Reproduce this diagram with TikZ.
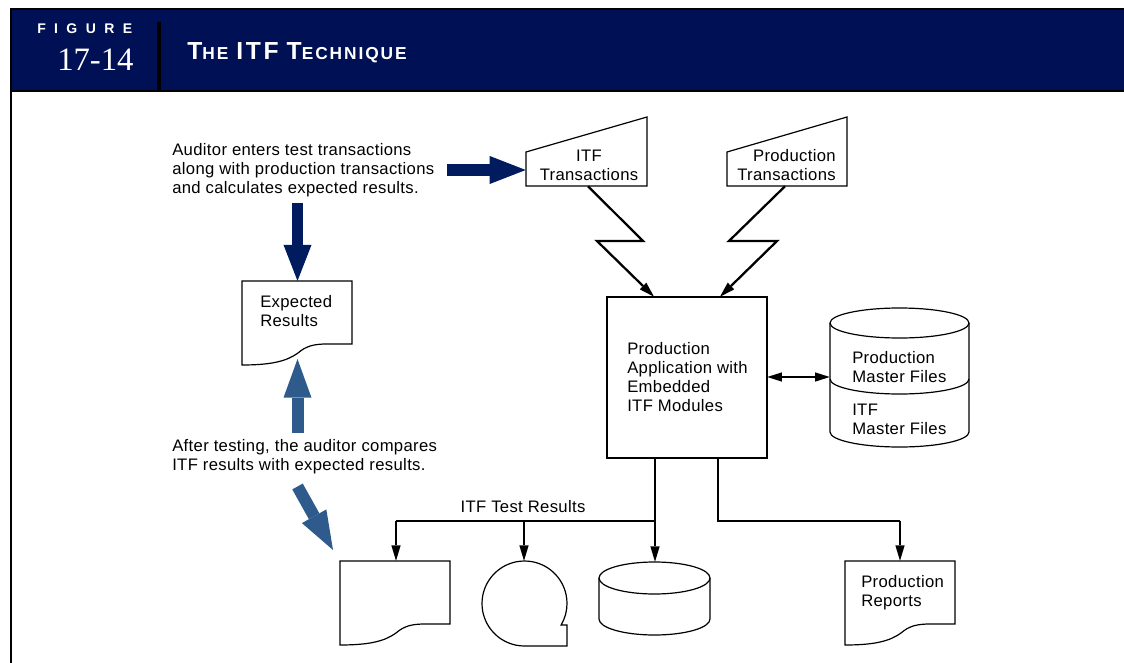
\documentclass[tikz,border=0pt]{standalone}
\usepackage{fontspec}
\setmainfont{Liberation Sans}
\newfontfamily\hdsans{Liberation Sans}
\newfontfamily\hdserif{Liberation Serif}
\usetikzlibrary{arrows.meta}
\definecolor{hdnavy}{RGB}{0,16,84}
\definecolor{arrnavy}{RGB}{0,28,94}
\definecolor{arrblue}{RGB}{46,90,140}
\tikzset{
  txt/.style={inner sep=0pt, font=\fontsize{12.5}{14.25}\selectfont\addfontfeature{LetterSpace=2}},
  shapeline/.style={draw=black, line width=0.9pt},
  conn/.style={draw=black, line width=1.9pt, -{Triangle[length=11.5pt,width=7pt,line width=0pt]}},
  bolt/.style={draw=black, line width=1.7pt, line join=miter, -{Triangle[length=11.5pt,width=7pt,line width=0pt]}},
  fatnavy/.style={draw=arrnavy, line width=8.5pt, -{Triangle[length=27pt,width=21pt,line width=0pt]}},
  fatblue/.style={draw=arrblue, line width=9pt, -{Triangle[length=29pt,width=21pt,line width=0pt]}},
  anchorbox/.style={inner sep=0pt, draw=none},
  pics/docshape/.style={code={
    \draw[shapeline] (0,84) .. controls (30,84) and (45,80) .. (56,72)
      .. controls (64,65) and (72,63) .. (85,63) -- (110,63) -- (110,0) -- (0,0) -- cycle;
  }},
}
\begin{document}
\begin{tikzpicture}[x=0.75pt,y=-0.75pt]
\useasboundingbox (0,0) rectangle (1124,663);
% header
\fill[hdnavy] (10,8) rectangle (1124,91);
\draw[line width=1.8pt] (11,663) -- (11,9) -- (1124,9);
\draw[line width=1.95pt] (10,91) -- (1124,91);
\draw[line width=2.6pt] (159,22) -- (159,91);
\node[anchor=west, inner sep=0pt, text=white, font=\hdsans\bfseries\fontsize{10.5}{12}\selectfont\addfontfeature{LetterSpace=60}] (figlbl) at (37,28.5) {FIGURE};
\node[anchor=west, inner sep=0pt, text=white, font=\hdserif\fontsize{24.5}{26}\selectfont] (fignum) at (57,60) {17-14};
\node[anchor=west, inner sep=0pt, text=white, font=\hdsans\bfseries\addfontfeature{LetterSpace=11}] (title) at (187,53)
  {{\fontsize{18.5}{19}\selectfont T}{\fontsize{13}{14}\selectfont HE}\hspace{6pt}{\fontsize{18.5}{19}\selectfont ITF\hspace{6pt}T}{\fontsize{13}{14}\selectfont ECHNIQUE}};

% texts
\node[txt, anchor=west, align=left] (aud) at (172,170) {Auditor enters test transactions\\along with production transactions\\and calculates expected results.};
\node[txt, anchor=west, align=left] (after) at (172,457) {After testing, the auditor compares\\ITF results with expected results.};

% input shapes
\draw[shapeline] (526,152) -- (647,117) -- (647,186) -- (526,186) -- cycle;
\node[anchorbox, minimum width=90.75pt, minimum height=51.75pt] (itf) at (586.5,151.5) {};
\node[txt, align=center] (itftxt) at (589,165) {ITF\\Transactions};
\draw[shapeline] (727,152) -- (847,117) -- (847,186) -- (727,186) -- cycle;
\node[anchorbox, minimum width=90pt, minimum height=51.75pt] (prodt) at (787,151.5) {};
\node[txt, align=right, anchor=east] (prodttxt) at (836,165) {Production\\Transactions};

% expected results document
\pic at (242,281) {docshape};
\node[anchorbox, minimum width=82.5pt, minimum height=62pt] (exp) at (297,322.5) {};
\node[txt, anchor=west, align=left] (exptxt) at (260,311.5) {Expected\\Results};

% main box
\draw[shapeline] (607,297) rectangle (767,458);
\node[anchorbox, minimum width=120pt, minimum height=120.75pt] (app) at (687,377.5) {};
\node[txt, anchor=west, align=left] (apptxt) at (627,377.5) {Production\\Application with\\Embedded\\ITF Modules};

% master files cylinder
\draw[shapeline] (899.5,323) ellipse [x radius=69.5, y radius=15];
\draw[shapeline] (830,323) -- (830,432) arc[start angle=180, end angle=0, x radius=69.5, y radius=15] -- (969,323);
\draw[shapeline] (830,379) arc[start angle=180, end angle=0, x radius=69.5, y radius=15];
\node[anchorbox, minimum width=104.25pt, minimum height=104pt] (mf) at (899.5,377) {};
\node[txt, anchor=west, align=left] (mftxt1) at (852,367.5) {Production\\Master Files};
\node[txt, anchor=west, align=left] (mftxt2) at (852,419) {ITF\\Master Files};

% bottom shapes
\pic at (340,561) {docshape};
\node[anchorbox, minimum width=82.5pt, minimum height=63pt] (itfdoc) at (395,603) {};
\draw[shapeline] (524.5,646) arc[start angle=90, end angle=390.4, radius=42.5] -- (567,625) -- (567,646) -- cycle;
\node[anchorbox, minimum width=63.75pt, minimum height=63.75pt] (tape) at (524.5,603.5) {};
\draw[shapeline] (654.5,578) ellipse [x radius=55.5, y radius=16];
\draw[shapeline] (599,578) -- (599,619) arc[start angle=180, end angle=0, x radius=55.5, y radius=16] -- (710,578);
\node[anchorbox, minimum width=83.25pt, minimum height=55.5pt] (disk) at (654.5,599) {};
\pic at (845,561) {docshape};
\node[anchorbox, minimum width=83.25pt, minimum height=63pt] (rep) at (900.5,603) {};
\node[txt, anchor=west, align=left] (reptxt) at (861,592.5) {Production\\Reports};

% lightning connectors
\coordinate (b1a) at (643,241);
\coordinate (b1b) at (597,241);
\coordinate (b2a) at (729,241);
\coordinate (b2b) at (777,241);
\draw[bolt] (itf.south -| 588,0) -- (b1a) -- (b1b) -- (app.north -| 654,0);
\draw[bolt] (prodt.south -| 785,0) -- (b2a) -- (b2b) -- (app.north -| 720,0);

% double arrow
\draw[draw=black, line width=1.7pt, {Triangle[length=11pt,width=7pt,line width=0pt]}-{Triangle[length=11pt,width=7pt,line width=0pt]}] (app.east |- 0,377) -- (mf.west |- 0,377);

% output connectors
\coordinate (j1) at (655,521);
\coordinate (j0) at (396,521);
\coordinate (j2) at (524,521);
\coordinate (k1) at (718,521);
\coordinate (k2) at (900,521);
\draw[line width=1.9pt] (app.south -| j1) -- (j1) -- (j0);
\draw[conn] (j0) -- (itfdoc.north -| j0);
\draw[conn] (j2) -- (tape.north -| j2);
\draw[conn] (j1) -- (disk.north -| j1);
\draw[line width=1.9pt] (app.south -| k1) -- (k1) -- (k2);
\draw[conn] (k2) -- (rep.north -| k2);
\node[txt] (itfres) at (523,507) {ITF Test Results};

% fat arrows
\draw[fatnavy] (447,170) -- (itf.west |- 0,170);
\draw[fatnavy] (297.5,203) -- (exp.north -| 297.5,0);
\draw[fatblue] (297.5,433) -- (297.5,359);
\draw[fatblue] (297.5,486.5) -- (333,550);
\end{tikzpicture}
\end{document}
